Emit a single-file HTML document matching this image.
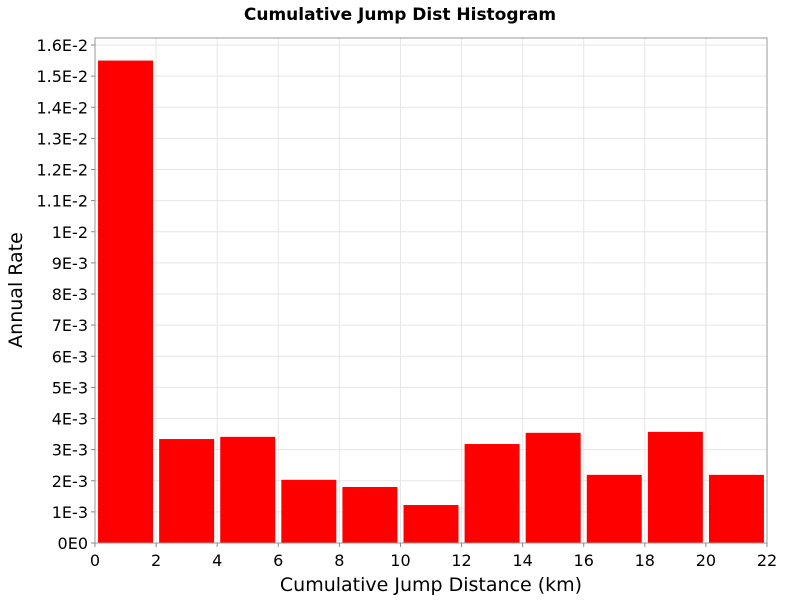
<!DOCTYPE html>
<html><head><meta charset="utf-8"><style>
body{margin:0;background:#fff;font-family:"DejaVu Sans","Liberation Sans",sans-serif}
</style></head><body>
<svg width="800" height="600" xmlns="http://www.w3.org/2000/svg">
<text x="400" y="20" text-anchor="middle" font-weight="bold" font-size="17">Cumulative Jump Dist Histogram</text>
<g id="grid"></g>
<g id="bars"></g>
<rect x="95" y="38" width="672" height="505" fill="none" stroke="#999"/>
<g id="xt"></g>
<g id="yt"></g>
<text x="431" y="591" text-anchor="middle" font-size="19">Cumulative Jump Distance (km)</text>
<text transform="translate(22,290) rotate(-90)" text-anchor="middle" font-size="19">Annual Rate</text>
</svg>
<script>
const binCenters=[1,3,5,7,9,11,13,15,17,19,21];
const rates=[0.0155,0.00334,0.00341,0.00203,0.00180,0.00122,0.00318,0.00354,0.00219,0.00357,0.00219];
const xTicks=[0,2,4,6,8,10,12,14,16,18,20,22];
const yTicks=[0,0.001,0.002,0.003,0.004,0.005,0.006,0.007,0.008,0.009,0.01,0.011,0.012,0.013,0.014,0.015,0.016];
const yLabels=["0E0","1E-3","2E-3","3E-3","4E-3","5E-3","6E-3","7E-3","8E-3","9E-3","1E-2","1.1E-2","1.2E-2","1.3E-2","1.4E-2","1.5E-2","1.6E-2"];
const NS="http://www.w3.org/2000/svg";
const X0=95,X1=767,Y0=543,YT=45;
const xs=v=>X0+(v/22)*(X1-X0);
const ys=v=>Y0-(v/0.016)*(Y0-YT);
function mk(t,a,p){const e=document.createElementNS(NS,t);for(const k in a)e.setAttribute(k,a[k]);p.appendChild(e);return e;}
const g=document.getElementById('grid'),b=document.getElementById('bars'),xt=document.getElementById('xt'),yt=document.getElementById('yt');
xTicks.forEach(v=>{
 const l=mk('line',{x1:xs(v),x2:xs(v),y1:38,y2:543,stroke:'#e6e6e6'},g);
 
 
 const tk=mk('line',{x1:xs(v),x2:xs(v),y1:543,y2:547,stroke:'#888'},xt);
 
 
 const t=mk('text',{x:xs(v),y:566,'text-anchor':'middle','font-size':16},xt);t.textContent=v;
 
 
});
yTicks.forEach((v,i)=>{
 const l=mk('line',{x1:95,x2:767,y1:ys(v),y2:ys(v),stroke:'#e6e6e6'},g);
 
 
 const tk=mk('line',{x1:91,x2:95,y1:ys(v),y2:ys(v),stroke:'#888'},yt);
 
 
 const t=mk('text',{x:88,y:ys(v)+6,'text-anchor':'end','font-size':16},yt);t.textContent=yLabels[i];
 
 
});
binCenters.forEach((c,i)=>{
 const x=Math.max(X0+1,xs(c-0.9)),w=xs(c+0.9)-x;
 const r=mk('rect',{x:x,y:ys(rates[i]),width:w,height:Y0-ys(rates[i]),fill:'#ff0000'},b);
 
 
});
</script>
</body></html>
